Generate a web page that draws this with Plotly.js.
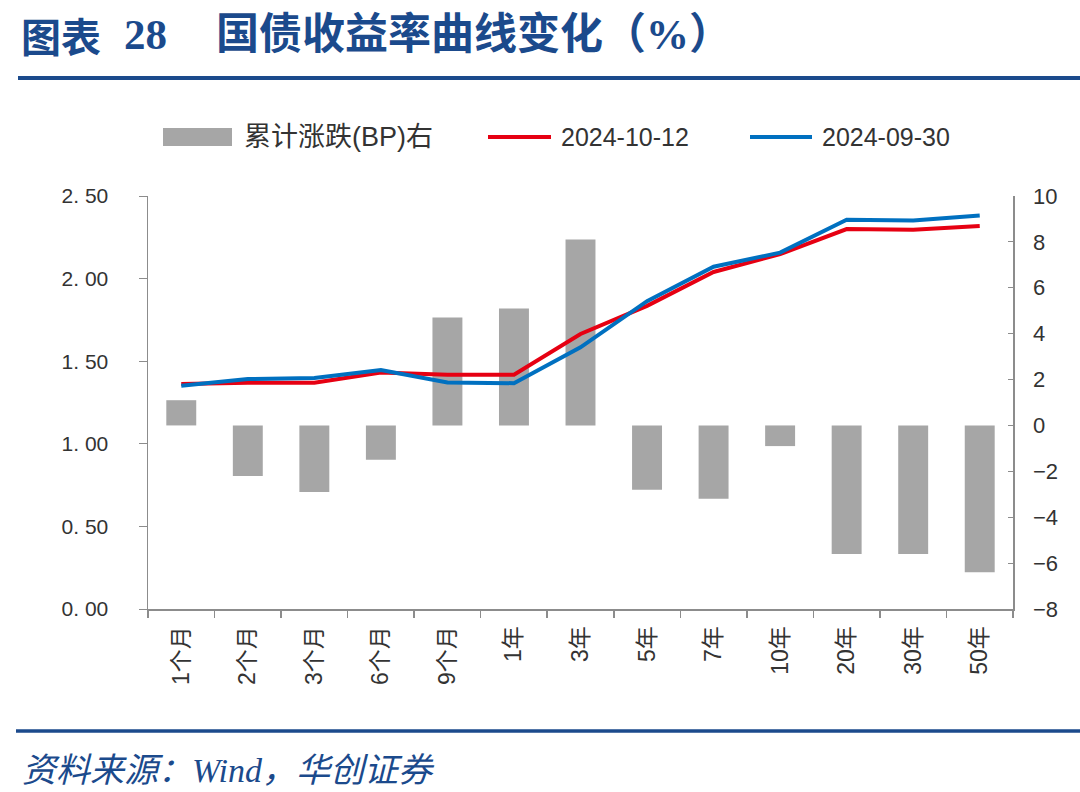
<!DOCTYPE html>
<html>
<head>
<meta charset="utf-8">
<script src="https://cdn.plot.ly/plotly-3.0.1.min.js"></script>
<style>html,body{margin:0;padding:0;background:#fff;}#chart{width:1080px;height:792px;}</style>
</head>
<body>
<div id="chart"></div>
<script>
const categories = ['1个月','2个月','3个月','6个月','9个月','1年','3年','5年','7年','10年','20年','30年','50年'];
const changeBP = [1.1, -2.2, -2.9, -1.5, 4.7, 5.1, 8.1, -2.8, -3.2, -0.9, -5.6, -5.6, -6.4];
const yield20241012 = [1.362, 1.370, 1.370, 1.432, 1.418, 1.418, 1.665, 1.835, 2.040, 2.148, 2.300, 2.295, 2.318];
const yield20240930 = [1.351, 1.392, 1.399, 1.447, 1.371, 1.367, 1.584, 1.863, 2.072, 2.157, 2.356, 2.351, 2.382];
const leftTickVals = [0, 0.5, 1.0, 1.5, 2.0, 2.5];
const leftTickText = ['0. 00', '0. 50', '1. 00', '1. 50', '2. 00', '2. 50'];
const seriesNames = ['累计涨跌(BP)右', '2024-10-12', '2024-09-30'];

const GRAY = '#A6A6A6', RED = '#E60012', BLUE = '#0070C0', NAVY = '#1B4A8C';
const AX = '#8C8C8C';

// pixel -> paper helpers (plot area 148..1013 x, 196..609 y)
const L = 148, R = 1013, T = 196, B = 609;
const px = v => (v - L) / (R - L);
const py = v => (B - v) / (B - T);

const traces = [
  {type: 'bar', name: seriesNames[0], x: categories, y: changeBP, yaxis: 'y', xaxis: 'x',
   marker: {color: GRAY}, width: 0.45, showlegend: false, hoverinfo: 'x+y'},
  {type: 'scatter', mode: 'lines', name: seriesNames[1], x: categories, y: yield20241012, yaxis: 'y2', xaxis: 'x',
   line: {color: RED, width: 4}, showlegend: false},
  {type: 'scatter', mode: 'lines', name: seriesNames[2], x: categories, y: yield20240930, yaxis: 'y2', xaxis: 'x',
   line: {color: BLUE, width: 4}, showlegend: false}
];

const tickFont = {family: 'Liberation Sans, Arial, sans-serif', size: 21, color: '#333333'};

const layout = {
  width: 1080, height: 792,
  paper_bgcolor: '#ffffff', plot_bgcolor: '#ffffff',
  margin: {l: L, r: 1080 - R, t: T, b: 792 - B, pad: 0},
  showlegend: false,
  bargap: 0.55,
  xaxis: {
    type: 'category', range: [-0.5, 12.5], fixedrange: true,
    showline: true, linecolor: AX, linewidth: 2,
    ticks: 'outside', tickson: 'boundaries', ticklen: 7, tickcolor: AX, tickwidth: 1.5,
    tickangle: -90, showgrid: false, zeroline: false, ticklabelstandoff: 6,
    tickfont: {family: 'Liberation Sans, Noto Sans CJK SC, sans-serif', size: 23, color: '#333333'}
  },
  yaxis: {
    side: 'right', range: [-8, 10], dtick: 2, tick0: 0,
    showline: true, linecolor: AX, linewidth: 1.5,
    ticks: 'inside', ticklen: 5, tickcolor: AX,
    showgrid: false, zeroline: false, ticklabelstandoff: 14,
    tickfont: {family: 'Liberation Sans, Arial, sans-serif', size: 22, color: '#333333'}
  },
  yaxis2: {
    overlaying: 'y', side: 'left', range: [0, 2.5],
    tickmode: 'array', tickvals: leftTickVals, ticktext: leftTickText,
    showline: true, linecolor: AX, linewidth: 1.5,
    ticks: 'outside', ticklen: 8, tickcolor: AX,
    showgrid: false, zeroline: false, ticklabelstandoff: 26,
    tickfont: tickFont
  },
  shapes: [
    // header & footer rules
    {type: 'line', xref: 'paper', yref: 'paper', x0: px(18), x1: px(1080), y0: py(78), y1: py(78), line: {color: NAVY, width: 4}},
    {type: 'line', xref: 'paper', yref: 'paper', x0: px(16), x1: px(1080), y0: py(731), y1: py(731), line: {color: NAVY, width: 3.5}},
    // legend swatches
    {type: 'rect', xref: 'paper', yref: 'paper', x0: px(163), x1: px(232), y0: py(146), y1: py(128), line: {width: 0}, fillcolor: GRAY},
    {type: 'line', xref: 'paper', yref: 'paper', x0: px(488), x1: px(551), y0: py(137), y1: py(137), line: {color: RED, width: 4}},
    {type: 'line', xref: 'paper', yref: 'paper', x0: px(750), x1: px(812), y0: py(137), y1: py(137), line: {color: BLUE, width: 4}}
  ],
  annotations: [
    {xref: 'paper', yref: 'paper', x: px(19), y: py(35), xanchor: 'left', yanchor: 'middle', showarrow: false,
     text: '<b>图表</b>', font: {family: 'Noto Sans CJK SC, serif', size: 40, color: NAVY}},
    {xref: 'paper', yref: 'paper', x: px(122), y: py(35), xanchor: 'left', yanchor: 'middle', showarrow: false,
     text: '<b>28</b>', font: {family: 'Liberation Serif, serif', size: 43, color: NAVY}},
    {xref: 'paper', yref: 'paper', x: px(214), y: py(35), xanchor: 'left', yanchor: 'middle', showarrow: false,
     text: '<b>国债收益率曲线变化（%）</b>', font: {family: 'Liberation Serif, Noto Sans CJK SC, serif', size: 43, color: NAVY}},
    {xref: 'paper', yref: 'paper', x: px(242), y: py(137), xanchor: 'left', yanchor: 'middle', showarrow: false,
     text: seriesNames[0], font: {family: 'Liberation Sans, Noto Sans CJK SC, sans-serif', size: 27, color: '#333333'}},
    {xref: 'paper', yref: 'paper', x: px(559), y: py(137), xanchor: 'left', yanchor: 'middle', showarrow: false,
     text: seriesNames[1], font: {family: 'Liberation Sans, sans-serif', size: 25, color: '#333333'}},
    {xref: 'paper', yref: 'paper', x: px(820), y: py(137), xanchor: 'left', yanchor: 'middle', showarrow: false,
     text: seriesNames[2], font: {family: 'Liberation Sans, sans-serif', size: 25, color: '#333333'}},
    {xref: 'paper', yref: 'paper', x: px(20), y: py(770), xanchor: 'left', yanchor: 'middle', showarrow: false,
     text: '<i>资料来源：Wind，华创证券</i>', font: {family: 'Liberation Serif, Noto Sans CJK SC, serif', size: 34, color: NAVY}}
  ]
};

Plotly.newPlot('chart', traces, layout, {displayModeBar: false, staticPlot: true});
</script>
</body>
</html>
